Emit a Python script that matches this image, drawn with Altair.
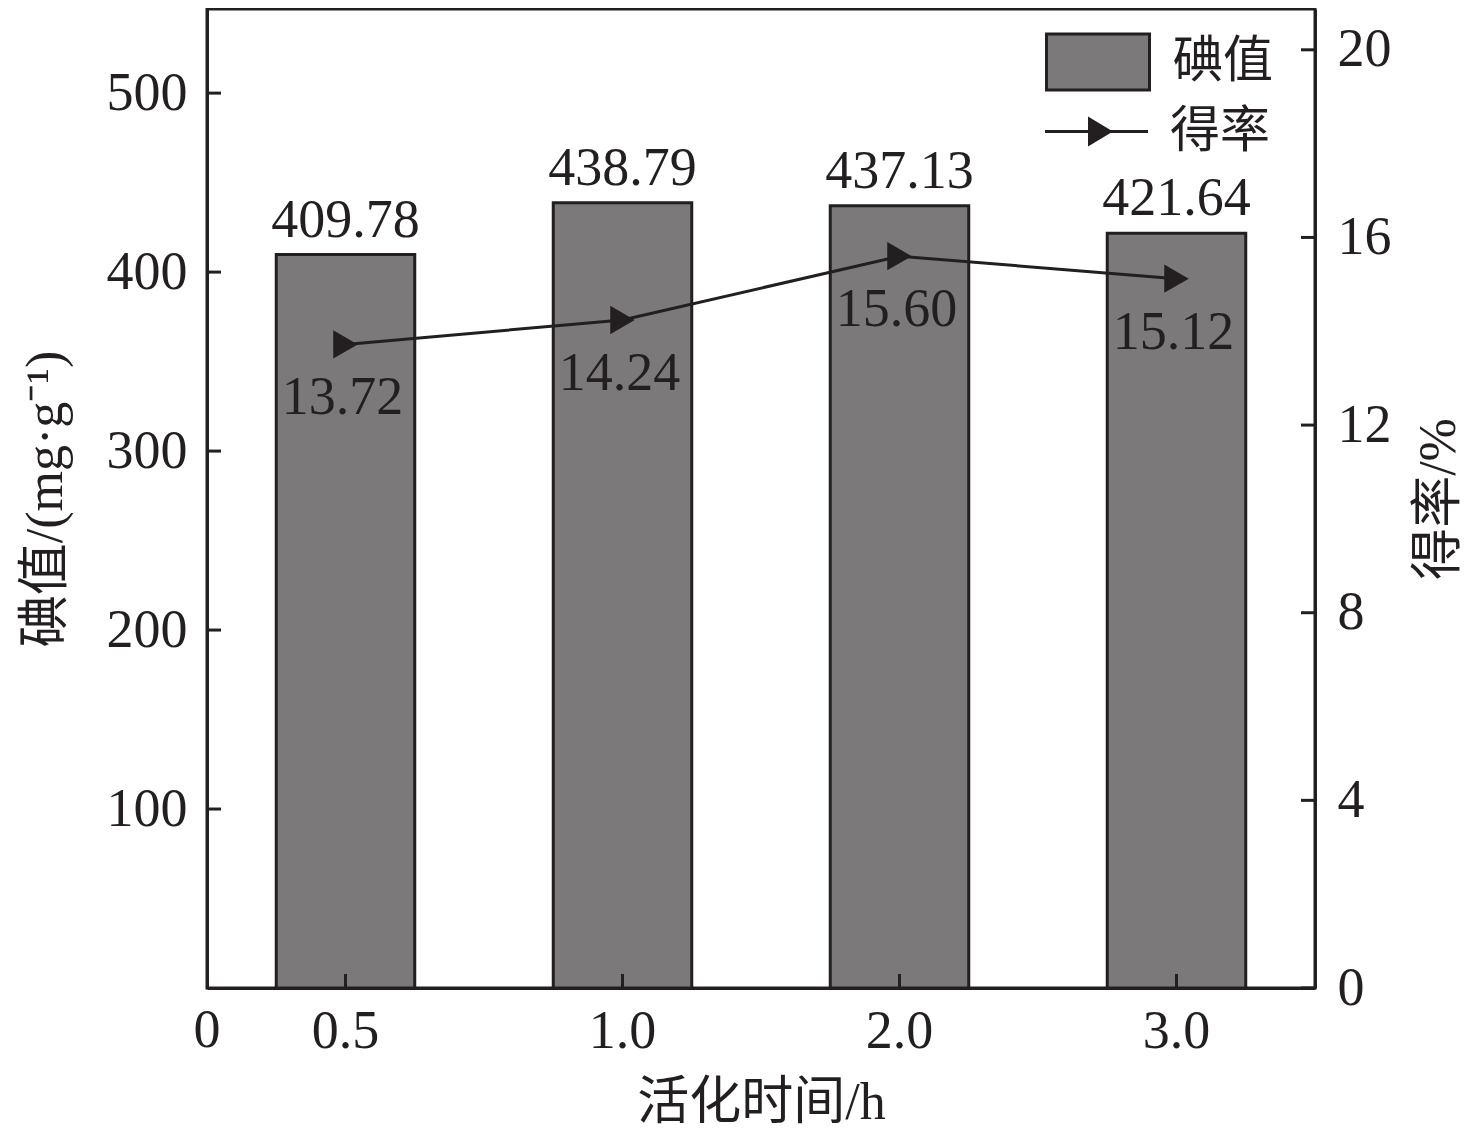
import altair as alt
import pandas as pd

# ---- data ----
categories = ["0.5", "1.0", "2.0", "3.0"]
iodine = [409.78, 438.79, 437.13, 421.64]
iodine_labels = ["409.78", "438.79", "437.13", "421.64"]
yield_pct = [13.72, 14.24, 15.60, 15.12]
yield_labels = ["13.72", "14.24", "15.60", "15.12"]
left_ticks = [100, 200, 300, 400, 500]
right_ticks = [0, 4, 8, 12, 16, 20]
origin_label = ["0"]

W, H = 1108, 979
INK = "#231f20"
BAR = "#7b7979"
SERIF = "Liberation Serif"
MIXED = "Liberation Serif, Noto Sans CJK SC"

df = pd.DataFrame({
    "t": categories, "iodine": iodine, "il": iodine_labels,
    "yield": yield_pct, "yl": yield_labels,
    "s1": ["碘值"] * 4, "s2": ["得率"] * 4,
})
lt = pd.DataFrame({"v": left_ticks})
rt = pd.DataFrame({"v": right_ticks})
org = pd.DataFrame({"lab": origin_label})

x_scale = alt.Scale(domain=categories, paddingInner=0.5, paddingOuter=0.25)
x_axis = alt.Axis(
    title="活化时间/h", labelAngle=0, labelFont=SERIF, labelFontSize=54,
    labelColor=INK, labelPadding=16, ticks=False, tickSize=0,
    domainColor=INK, domainWidth=3, grid=False,
    titleFont=MIXED, titleFontSize=52, titleFontWeight="normal", titleColor=INK,
    titleX=W / 2, titleY=130, titleBaseline="alphabetic", titleAlign="center",
)


def X():
    return alt.X("t:N", scale=x_scale, axis=x_axis, sort=categories)


ly_scale = alt.Scale(domain=[0, 547], nice=False, zero=True)
left_axis = alt.Axis(
    orient="left", values=left_ticks, labelFont=SERIF, labelFontSize=54,
    labelColor=INK, labelPadding=20, ticks=False, tickSize=0,
    domainColor=INK, domainWidth=3, grid=False,
    title="碘值/(mg·g⁻¹)", titleFont=MIXED, titleFontSize=52,
    titleFontWeight="normal", titleColor=INK, titleX=-162, titleY=H / 2,
    titleAngle=270, titleBaseline="middle", titleAlign="center",
)
ry_scale = alt.Scale(domain=[0, 20.87], nice=False, zero=True)
right_axis = alt.Axis(
    orient="right", values=right_ticks, labelFont=SERIF, labelFontSize=54,
    labelColor=INK, labelPadding=22, ticks=False, tickSize=0,
    domainColor=INK, domainWidth=3, grid=False,
    title="得率/%", titleFont=MIXED, titleFontSize=52,
    titleFontWeight="normal", titleColor=INK, titleX=123, titleY=H / 2,
    titleAngle=270, titleBaseline="middle", titleAlign="center",
)


def LY(f):
    return alt.Y(f"{f}:Q", scale=ly_scale, axis=left_axis)


def RY(f):
    return alt.Y(f"{f}:Q", scale=ry_scale, axis=right_axis)


rect_path = "M-1,-0.544L1,-0.544L1,0.544L-1,0.544Z"
line_path = "M-1,-0.03L1,-0.03L1,0.03L-1,0.03Z M-0.165,-0.29L0.32,0L-0.165,0.29Z"

leg_common = dict(
    orient="none", title=None, symbolSize=10609, labelFont=MIXED,
    labelFontSize=50, labelColor=INK, labelOffset=22, padding=0,
)

bars = alt.Chart(df).mark_bar(stroke=INK, strokeWidth=3).encode(
    x=X(), y=LY("iodine"),
    fill=alt.Fill("s1:N", scale=alt.Scale(domain=["碘值"], range=[BAR]),
                  legend=alt.Legend(legendX=838, legendY=0, symbolType=rect_path,
                                    symbolStrokeColor=INK, symbolStrokeWidth=3,
                                    symbolFillColor=BAR, **leg_common)),
)
bar_text = alt.Chart(df).mark_text(
    font=SERIF, fontSize=54, color=INK, baseline="alphabetic", dy=-18
).encode(x=X(), y=LY("iodine"), text="il:N")

left_tick_rules = alt.Chart(lt).mark_rule(color=INK, strokeWidth=3).encode(
    y=LY("v"), x=alt.value(0), x2=alt.value(14)
)
x_tick_rules = alt.Chart(df).mark_rule(color=INK, strokeWidth=3).encode(
    x=X(), y=alt.value(H - 14), y2=alt.value(H)
)
origin_text = alt.Chart(org).mark_text(
    font=SERIF, fontSize=54, color=INK, baseline="top", dy=16, align="center"
).encode(x=alt.value(0), y=alt.value(H), text="lab:N")

left_group = alt.layer(bars, bar_text, left_tick_rules, x_tick_rules, origin_text)

line = alt.Chart(df).mark_line(color=INK, strokeWidth=3).encode(x=X(), y=RY("yield"))
points = alt.Chart(df).mark_point(
    shape="triangle-right", filled=True, size=800, opacity=1
).encode(
    x=X(), y=RY("yield"),
    fill=alt.Fill("s2:N", scale=alt.Scale(domain=["得率"], range=[INK]),
                  legend=alt.Legend(legendX=838, legendY=71, symbolType=line_path,
                                    symbolFillColor=INK, symbolStrokeWidth=0,
                                    **leg_common)),
)
line_text = alt.Chart(df).mark_text(
    font=SERIF, fontSize=54, color=INK, baseline="alphabetic", dy=70, dx=-3
).encode(x=X(), y=RY("yield"), text="yl:N")
right_tick_rules = alt.Chart(rt).mark_rule(color=INK, strokeWidth=3).encode(
    y=RY("v"), x=alt.value(W - 14), x2=alt.value(W)
)

right_group = alt.layer(line, points, line_text, right_tick_rules)

chart = (
    alt.layer(left_group, right_group)
    .resolve_scale(y="independent", fill="independent")
    .properties(
        width=W, height=H,
        autosize=alt.AutoSizeParams(type="none"),
        padding={"left": 199, "top": 1, "right": 153, "bottom": 144},
        background="white",
    )
    .configure_view(stroke=INK, strokeWidth=3)
)

chart.save("out.html", embed_options={"renderer": "svg", "actions": False})
